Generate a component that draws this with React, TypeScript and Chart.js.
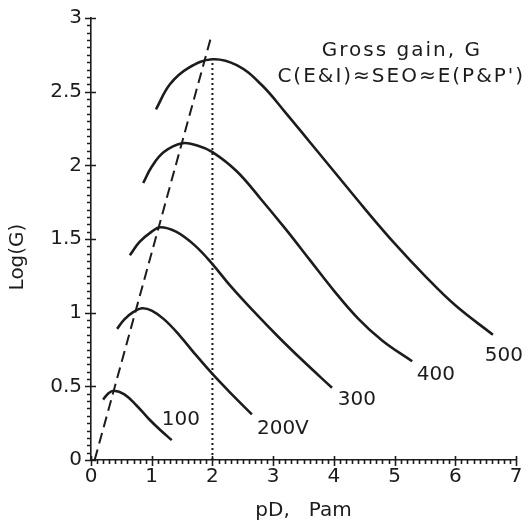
import React, { useEffect, useRef } from "react";
import { Chart, registerables } from "chart.js";

Chart.register(...registerables);

// ---- data ----
const curveLabels = ["100", "200V", "300", "400", "500"];

const c100X = [0.2, 0.28, 0.38, 0.55, 0.75, 0.95, 1.15, 1.33];
const c100Y = [0.41, 0.45, 0.47, 0.445, 0.37, 0.28, 0.2, 0.135];

const c200X = [0.43, 0.55, 0.7, 0.84, 1.0, 1.2, 1.45, 1.7, 2.0, 2.3, 2.65];
const c200Y = [0.89, 0.955, 1.005, 1.03, 1.014, 0.956, 0.85, 0.726, 0.584, 0.454, 0.31];

const c300X = [0.64, 0.8, 1.0, 1.14, 1.4, 1.7, 2.0, 2.3, 2.7, 3.1, 3.5, 3.97];
const c300Y = [1.39, 1.48, 1.55, 1.58, 1.55, 1.46, 1.33, 1.18, 1.0, 0.83, 0.67, 0.49];

const c400X = [0.86, 1.0, 1.2, 1.5, 1.75, 2.0, 2.4, 2.8, 3.2, 3.6, 4.0, 4.4, 4.8, 5.29];
const c400Y = [1.88, 1.99, 2.09, 2.15, 2.135, 2.09, 1.96, 1.77, 1.57, 1.36, 1.15, 0.96, 0.81, 0.67];

const c500X = [1.07, 1.3, 1.6, 2.0, 2.4, 2.8, 3.2, 3.6, 4.0, 4.5, 5.0, 5.5, 6.0, 6.62];
const c500Y = [2.38, 2.55, 2.66, 2.72, 2.68, 2.55, 2.36, 2.16, 1.96, 1.71, 1.47, 1.25, 1.05, 0.85];

const dashedX = [0.06, 1.97];
const dashedY = [0.0, 2.86];

const dottedX = [2.0, 2.0];
const dottedY = [0.0, 2.72];

const xTickValues = [0, 1, 2, 3, 4, 5, 6, 7];
const yTickValues = [0, 0.5, 1, 1.5, 2, 2.5, 3];

const titleLines = ["Gross gain, G", "C(E&I)\u2248SEO\u2248E(P&P')"];
const xAxisTitle = "pD,   Pam";
const yAxisTitle = "Log(G)";

// ---- placement (not data) ----
const curveLabelPos = [
  [1.48, 0.27],
  [3.16, 0.21],
  [4.38, 0.41],
  [5.68, 0.58],
  [6.8, 0.71],
];
const titlePos = [
  [5.12, 2.78],
  [5.11, 2.6],
];

const INK = "#1c1c1c";
const FONT = "'DejaVu Sans', sans-serif";

function pts(xs: number[], ys: number[]) {
  return xs.map((x, i) => ({ x, y: ys[i] }));
}

const overlayPlugin = {
  id: "overlay",
  afterDraw(chart: any) {
    const ctx = chart.ctx as CanvasRenderingContext2D;
    const xs = chart.scales.x;
    const ys = chart.scales.y;
    const area = chart.chartArea;
    ctx.save();
    ctx.strokeStyle = INK;
    ctx.lineWidth = 1.6;
    ctx.beginPath();
    for (let i = 0; i <= 70; i++) {
      const v = i / 10;
      const px = Math.round(xs.getPixelForValue(v)) + 0.5;
      if (i % 10 === 0) {
        ctx.moveTo(px, area.bottom - 4);
        ctx.lineTo(px, area.bottom + 6);
      } else {
        ctx.moveTo(px, area.bottom);
        ctx.lineTo(px, area.bottom + 4);
      }
    }
    for (let i = 0; i <= 60; i++) {
      const v = i / 20;
      const py = Math.round(ys.getPixelForValue(v)) + 0.5;
      if (i % 10 === 0) {
        ctx.moveTo(area.left - 6, py);
        ctx.lineTo(area.left + 5, py);
      } else {
        ctx.moveTo(area.left - 4, py);
        ctx.lineTo(area.left, py);
      }
    }
    ctx.stroke();

    ctx.fillStyle = INK;
    ctx.font = `20px ${FONT}`;
    ctx.textAlign = "center";
    ctx.textBaseline = "middle";
    curveLabels.forEach((t, i) => {
      const [vx, vy] = curveLabelPos[i];
      ctx.fillText(t, xs.getPixelForValue(vx), ys.getPixelForValue(vy));
    });
    (ctx as any).letterSpacing = "2px";
    titleLines.forEach((t, i) => {
      const [vx, vy] = titlePos[i];
      ctx.fillText(t, xs.getPixelForValue(vx), ys.getPixelForValue(vy));
    });
    (ctx as any).letterSpacing = "0px";

    ctx.fillText(xAxisTitle, (area.left + area.right) / 2, 511);
    ctx.translate(18, 257);
    ctx.rotate(-Math.PI / 2);
    ctx.fillText(yAxisTitle, 0, 0);
    ctx.restore();
  },
};

export default function App() {
  const ref = useRef<HTMLCanvasElement | null>(null);
  useEffect(() => {
    if (!ref.current) return;
    const lineDs = (xs: number[], ys: number[]) => ({
      data: pts(xs, ys),
      borderColor: INK,
      borderWidth: 2.6,
      pointRadius: 0,
      fill: false,
      tension: 0.4,
    });
    const chart = new Chart(ref.current, {
      type: "line",
      data: {
        datasets: [
          lineDs(c100X, c100Y),
          lineDs(c200X, c200Y),
          lineDs(c300X, c300Y),
          lineDs(c400X, c400Y),
          lineDs(c500X, c500Y),
          {
            data: pts(dashedX, dashedY),
            borderColor: INK,
            borderWidth: 2,
            borderDash: [11, 6],
            pointRadius: 0,
            fill: false,
          },
          {
            data: pts(dottedX, dottedY),
            borderColor: INK,
            borderWidth: 2,
            borderDash: [2, 3],
            pointRadius: 0,
            fill: false,
          },
        ],
      },
      options: {
        animation: false,
        responsive: false,
        maintainAspectRatio: false,
        layout: { padding: { top: 18, right: 12, left: 0, bottom: 0 } },
        plugins: { legend: { display: false }, tooltip: { enabled: false } },
        scales: {
          x: {
            type: "linear",
            min: 0,
            max: 7,
            afterBuildTicks: (s: any) => {
              s.ticks = xTickValues.map((v) => ({ value: v }));
            },
            afterFit: (s: any) => {
              s.height = 66;
              s.paddingLeft = 0;
              s.paddingRight = 0;
            },
            grid: { display: false, drawTicks: false },
            border: { display: true, color: INK, width: 1.6 },
            ticks: {
              color: INK,
              font: { family: FONT, size: 20 },
              padding: 5,
              maxRotation: 0,
              autoSkip: false,
              callback: (v: any) => String(v),
            },
          },
          y: {
            type: "linear",
            min: 0,
            max: 3,
            afterBuildTicks: (s: any) => {
              s.ticks = yTickValues.map((v) => ({ value: v }));
            },
            afterFit: (s: any) => {
              s.width = 91;
              s.paddingTop = 0;
              s.paddingBottom = 0;
            },
            grid: { display: false, drawTicks: false },
            border: { display: true, color: INK, width: 1.6 },
            ticks: {
              color: INK,
              font: { family: FONT, size: 20 },
              padding: 9,
              autoSkip: false,
              callback: (v: any) => String(v),
            },
          },
        },
      },
      plugins: [overlayPlugin],
    });
    return () => chart.destroy();
  }, []);
  return (
    <div style={{ position: "absolute", left: 0, top: 0, width: 528, height: 526, background: "#fff" }}>
      <canvas ref={ref} width={528} height={526} style={{ display: "block" }} />
    </div>
  );
}
